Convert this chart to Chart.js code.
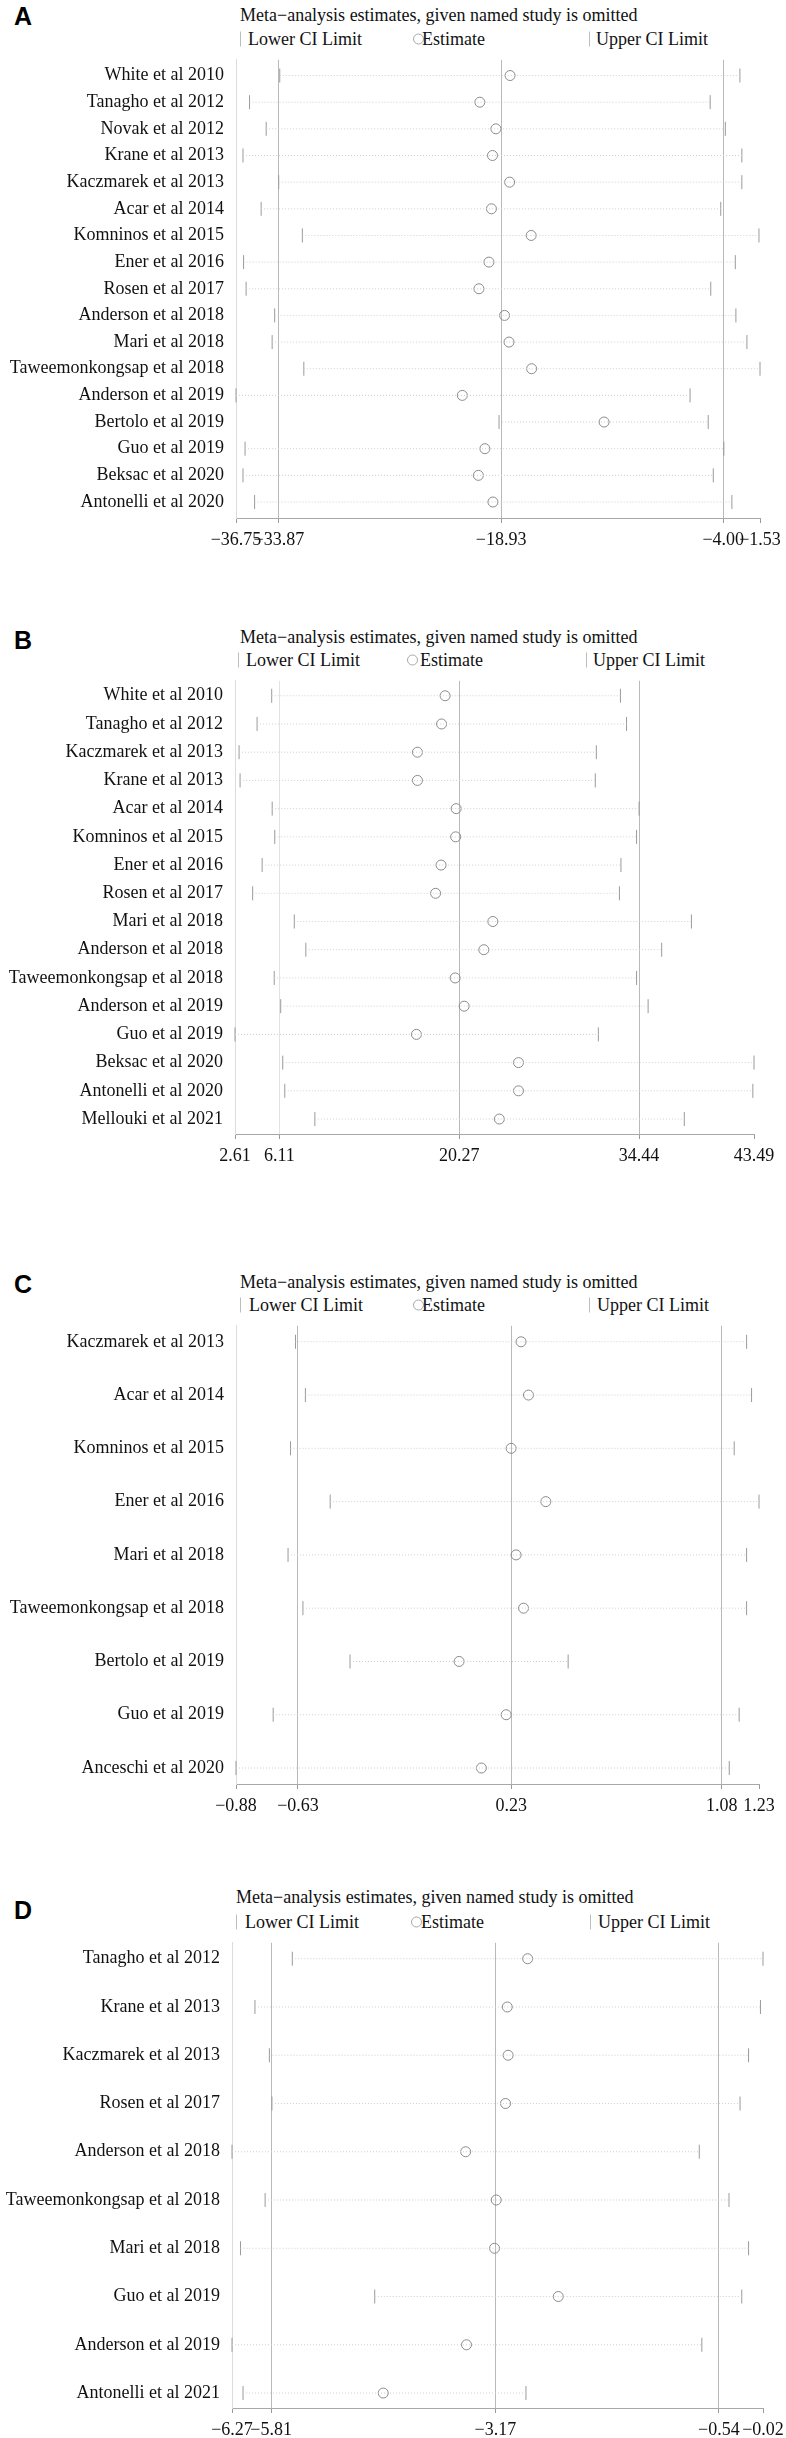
<!DOCTYPE html>
<html>
<head>
<meta charset="utf-8">
<script src="https://cdn.jsdelivr.net/npm/chart.js@4.4.1/dist/chart.umd.min.js"></script>
<style>
  body { margin: 0; background: #fff; width: 786px; height: 2438px; position: relative; overflow: hidden; }
  canvas { position: absolute; left: 0; }
  .letter, .title, .lg { position: absolute; transform: translateY(-50%); white-space: nowrap; line-height: 1; color: #111; }
  .letter { font: bold 25px "Liberation Sans", Arial, sans-serif; color: #000; }
  .title, .lg { font: 18px "Liberation Serif", "Times New Roman", serif; }
  .sym-bar { position: absolute; width: 0; height: 15px; border-left: 1px solid #bdbdbd; transform: translateY(-50%); }
  .sym-circ { position: absolute; width: 9px; height: 9px; border: 1px solid #a8a8a8; border-radius: 50%; transform: translateY(-50%); }
</style>
</head>
<body>
<script>
// Panel A
const studiesA = ['White et al 2010', 'Tanagho et al 2012', 'Novak et al 2012', 'Krane et al 2013',
    'Kaczmarek et al 2013', 'Acar et al 2014', 'Komninos et al 2015', 'Ener et al 2016', 'Rosen et al 2017',
    'Anderson et al 2018', 'Mari et al 2018', 'Taweemonkongsap et al 2018', 'Anderson et al 2019',
    'Bertolo et al 2019', 'Guo et al 2019', 'Beksac et al 2020', 'Antonelli et al 2020'];
const lowerA = [-33.81, -35.84, -34.72, -36.28, -33.88, -35.06, -32.29, -36.24, -36.07, -34.15, -34.32, -32.19, -36.75, -19.07, -36.14, -36.28, -35.50];
const estA = [-18.33, -20.36, -19.28, -19.51, -18.36, -19.58, -16.91, -19.75, -20.42, -18.70, -18.40, -16.88, -21.54, -12.01, -20.02, -20.46, -19.48];
const upperA = [-2.88, -4.88, -3.86, -2.75, -2.75, -4.17, -1.60, -3.19, -4.84, -3.15, -2.41, -1.53, -6.23, -5.01, -3.96, -4.67, -3.42];
const ticksA = [-36.75, -33.87, -18.93, -4.00, -1.53];

// Panel B
const studiesB = ['White et al 2010', 'Tanagho et al 2012', 'Kaczmarek et al 2013', 'Krane et al 2013',
    'Acar et al 2014', 'Komninos et al 2015', 'Ener et al 2016', 'Rosen et al 2017', 'Mari et al 2018',
    'Anderson et al 2018', 'Taweemonkongsap et al 2018', 'Anderson et al 2019', 'Guo et al 2019',
    'Beksac et al 2020', 'Antonelli et al 2020', 'Mellouki et al 2021'];
const lowerB = [5.50, 4.35, 2.93, 3.01, 5.54, 5.74, 4.75, 4.00, 7.28, 8.19, 5.70, 6.21, 2.61, 6.37, 6.53, 8.90];
const estB = [19.16, 18.88, 16.98, 16.98, 20.03, 19.99, 18.84, 18.41, 22.92, 22.21, 19.95, 20.66, 16.90, 24.94, 24.94, 23.43];
const upperB = [32.97, 33.45, 31.07, 30.99, 34.44, 34.24, 33.01, 32.89, 38.56, 36.22, 34.24, 35.15, 31.23, 43.49, 43.40, 38.00];
const ticksB = [2.61, 6.11, 20.27, 34.44, 43.49];

// Panel C
const studiesC = ['Kaczmarek et al 2013', 'Acar et al 2014', 'Komninos et al 2015', 'Ener et al 2016',
    'Mari et al 2018', 'Taweemonkongsap et al 2018', 'Bertolo et al 2019', 'Guo et al 2019', 'Anceschi et al 2020'];
const lowerC = [-0.64, -0.60, -0.66, -0.50, -0.67, -0.61, -0.42, -0.73, -0.88];
const estC = [0.27, 0.30, 0.23, 0.37, 0.25, 0.28, 0.02, 0.21, 0.11];
const upperC = [1.18, 1.20, 1.13, 1.23, 1.18, 1.18, 0.46, 1.15, 1.11];
const ticksC = [-0.88, -0.63, 0.23, 1.08, 1.23];

// Panel D
const studiesD = ['Tanagho et al 2012', 'Krane et al 2013', 'Kaczmarek et al 2013', 'Rosen et al 2017',
    'Anderson et al 2018', 'Taweemonkongsap et al 2018', 'Mari et al 2018', 'Guo et al 2019',
    'Anderson et al 2019', 'Antonelli et al 2021'];
const lowerD = [-5.56, -6.00, -5.83, -5.80, -6.27, -5.88, -6.17, -4.59, -6.27, -6.14];
const estD = [-2.79, -3.03, -3.02, -3.05, -3.52, -3.16, -3.18, -2.43, -3.51, -4.49];
const upperD = [-0.02, -0.05, -0.19, -0.29, -0.77, -0.42, -0.19, -0.27, -0.74, -2.81];
const ticksD = [-6.27, -5.81, -3.17, -0.54, -0.02];

const TITLE = 'Meta\u2212analysis estimates, given named study is omitted';

// mise en page de chaque panneau (px)
const panels = [
    { id: 'A', studies: studiesA, lower: lowerA, est: estA, upper: upperA, ticks: ticksA,
      top: 57, bottom: 518, left: 236, right: 760, padTop: 0.59, padBottom: 0.6,
      letterY: 16, titleX: 240, titleY: 15, legY: 39, leg: [240, 248, 413, 422, 589, 596] },
    { id: 'B', studies: studiesB, lower: lowerB, est: estB, upper: upperB, ticks: ticksB,
      top: 678, bottom: 1134, left: 235, right: 754, padTop: 0.53, padBottom: 0.53, faintFirst: true,
      letterY: 640, titleX: 240, titleY: 637, legY: 660, leg: [238, 246, 407, 420, 586, 593] },
    { id: 'C', studies: studiesC, lower: lowerC, est: estC, upper: upperC, ticks: ticksC,
      top: 1323, bottom: 1784, left: 236, right: 759, padTop: 0.3, padBottom: 0.3,
      letterY: 1284, titleX: 240, titleY: 1282, legY: 1305, leg: [240, 249, 413, 422, 589, 597] },
    { id: 'D', studies: studiesD, lower: lowerD, est: estD, upper: upperD, ticks: ticksD,
      top: 1940, bottom: 2408, left: 232, right: 763, padTop: 0.33, padBottom: 0.31,
      letterY: 1910, titleX: 236, titleY: 1897, legY: 1922, leg: [236, 245, 411, 421, 590, 598] }
];

Chart.defaults.font.family = '"Liberation Serif", "Times New Roman", serif';
Chart.defaults.font.size = 18;
Chart.defaults.color = '#111';

function fmt(v) {
    return (v < 0 ? '\u2212' : '') + Math.abs(v).toFixed(2);
}

function addEl(cls, text, x, cy) {
    const el = document.createElement('div');
    el.className = cls;
    if (text) el.textContent = text;
    el.style.left = x + 'px';
    el.style.top = cy + 'px';
    document.body.appendChild(el);
    return el;
}

function buildPanel(p) {
    // lettre, titre et légende
    addEl('letter', p.id, 14, p.letterY);
    addEl('title', TITLE, p.titleX, p.titleY);
    addEl('sym-bar', '', p.leg[0], p.legY);
    addEl('lg', 'Lower CI Limit', p.leg[1], p.legY);
    addEl('sym-circ', '', p.leg[2], p.legY);
    addEl('lg', 'Estimate', p.leg[3], p.legY);
    addEl('sym-bar', '', p.leg[4], p.legY);
    addEl('lg', 'Upper CI Limit', p.leg[5], p.legY);

    const padTop = 20, axisH = 44, cw = 820;
    const ch = padTop + (p.bottom - p.top) + axisH;
    const canvas = document.createElement('canvas');
    canvas.width = cw;
    canvas.height = ch;
    canvas.style.width = cw + 'px';
    canvas.style.height = ch + 'px';
    canvas.style.top = (p.top - padTop) + 'px';
    document.body.appendChild(canvas);

    const n = p.studies.length;
    const last = p.ticks.length - 1;

    // lignes pointillées entre les limites
    const segs = p.studies.map((s, i) => ({
        data: [{ x: p.lower[i], y: i }, { x: p.upper[i], y: i }],
        showLine: true,
        borderColor: '#cfcfcf',
        borderWidth: 1,
        borderDash: [1, 2],
        pointRadius: 0,
        clip: false
    }));

    const limit = (arr) => ({
        data: arr.map((v, i) => ({ x: v, y: i })),
        showLine: false,
        pointStyle: 'line',
        pointRotation: 90,
        pointRadius: 7,
        pointBorderColor: '#9a9a9a',
        pointBorderWidth: 1,
        clip: false
    });

    const estimates = {
        data: p.est.map((v, i) => ({ x: v, y: i })),
        showLine: false,
        pointStyle: 'circle',
        pointRadius: 5,
        pointBorderColor: '#8a8a8a',
        pointBackgroundColor: 'rgba(255,255,255,0)',
        pointBorderWidth: 1,
        clip: false
    };

    new Chart(canvas, {
        type: 'scatter',
        data: { datasets: [...segs, limit(p.lower), limit(p.upper), estimates] },
        options: {
            responsive: false,
            animation: false,
            events: [],
            layout: { padding: { left: 0, top: padTop, right: cw - p.right, bottom: 0 } },
            plugins: { legend: { display: false }, tooltip: { enabled: false } },
            scales: {
                x: {
                    type: 'linear',
                    min: p.ticks[0],
                    max: p.ticks[last],
                    afterBuildTicks: (s) => { s.ticks = p.ticks.map(v => ({ value: v })); },
                    afterFit: (s) => { s.height = axisH; },
                    ticks: {
                        autoSkip: false,
                        maxRotation: 0,
                        minRotation: 0,
                        padding: 6,
                        callback: (v) => fmt(v)
                    },
                    grid: {
                        color: (ctx) => {
                            if (ctx.index === 0 || ctx.index === last) return 'rgba(0,0,0,0)';
                            if (p.faintFirst && ctx.index === 1) return '#e2e2e2';
                            return '#b9b9b9';
                        },
                        lineWidth: 1,
                        tickLength: 5,
                        tickColor: '#9a9a9a'
                    },
                    border: { color: '#a8a8a8', width: 1 }
                },
                y: {
                    type: 'linear',
                    reverse: true,
                    min: -p.padTop,
                    max: n - 1 + p.padBottom,
                    afterBuildTicks: (s) => { s.ticks = p.studies.map((_, i) => ({ value: i })); },
                    afterFit: (s) => { s.width = p.left; },
                    ticks: {
                        autoSkip: false,
                        padding: 12,
                        callback: (v) => p.studies[v]
                    },
                    grid: { display: false, drawTicks: false },
                    border: { color: '#dcdcdc', width: 1 }
                }
            }
        }
    });
}

panels.forEach(buildPanel);
</script>
</body>
</html>
